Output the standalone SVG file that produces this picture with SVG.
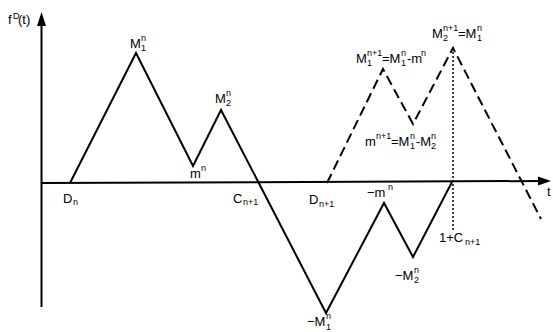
<svg xmlns="http://www.w3.org/2000/svg" width="553" height="332" viewBox="0 0 553 332">
<defs>
<style>
text{font-family:"Liberation Sans",Arial,sans-serif;font-size:13px;fill:#000}
.s{font-size:9px}
.ax{stroke:#000;stroke-width:2;fill:none}
.sol{stroke:#000;stroke-width:2;fill:none;stroke-linejoin:miter}
.dash{stroke:#000;stroke-width:2;fill:none;stroke-dasharray:10 5}
.dot{stroke:#000;stroke-width:1.5;fill:none;stroke-dasharray:2 2}
</style>
</defs>
<rect width="553" height="332" fill="#fff"/>
<g id="axes">
<line class="ax" x1="41.5" y1="307" x2="41.5" y2="22"/>
<polygon points="41.5,12 37,26 46,26" fill="#000"/>
<line class="ax" x1="41" y1="183" x2="540" y2="181"/>
<polygon points="551,181 538,176.5 538,185.5" fill="#000"/>
<text x="8" y="24">f</text><text class="s" x="13" y="19">D</text><text x="18" y="24">(t)</text>
<text x="547" y="196">t</text>
</g>
<g id="connectors">
<polyline id="solid-curve" class="sol" points="70,183 136,53 193,166 221,110 326,313 384,203 413,257 452,182"/>
<polyline id="dashed-curve" class="dash" points="327,183 383,69 413,124 453,48 541,219"/>
<line id="dotted" class="dot" x1="453" y1="52" x2="453" y2="230"/>
</g>
<g id="labels">
<g id="M1n"><text x="130" y="48">M</text><text class="s" x="141" y="51">1</text><text class="s" x="141" y="41">n</text></g>
<g id="mn"><text x="190" y="178">m</text><text class="s" x="201" y="171">n</text></g>
<g id="M2n"><text x="215" y="103">M</text><text class="s" x="226" y="106">2</text><text class="s" x="226" y="96">n</text></g>
<g id="Dn"><text x="63" y="203">D</text><text class="s" x="73" y="205">n</text></g>
<g id="Cn1"><text x="233" y="203">C</text><text class="s" x="243" y="205">n+1</text></g>
<g id="Dn1"><text x="309" y="204">D</text><text class="s" x="319" y="207">n+1</text></g>
<g id="negmn"><text x="367" y="197">−m</text><text class="s" x="388" y="190">n</text></g>
<g id="oneCn1"><text x="439" y="242">1+C</text><text class="s" x="465" y="245">n+1</text></g>
<g id="negM2n"><text x="395" y="280">−M</text><text class="s" x="414" y="283">2</text><text class="s" x="414" y="273">n</text></g>
<g id="negM1n"><text x="307" y="326">−M</text><text class="s" x="326" y="330">1</text><text class="s" x="326" y="319">n</text></g>
<g id="M1n1"><text x="356" y="63">M</text><text class="s" x="367" y="66">1</text><text class="s" x="367" y="56">n+1</text><text x="382" y="63">=M</text><text class="s" x="401" y="66">1</text><text class="s" x="401" y="56">n</text><text x="407" y="63">-m</text><text class="s" x="421" y="56">n</text></g>
<g id="M2n1"><text x="432" y="38">M</text><text class="s" x="443" y="41">2</text><text class="s" x="443" y="31">n+1</text><text x="458" y="38">=M</text><text class="s" x="477" y="41">1</text><text class="s" x="477" y="31">n</text></g>
<g id="mn1"><text x="365" y="146">m</text><text class="s" x="376" y="139">n+1</text><text x="391" y="146">=M</text><text class="s" x="410" y="149">1</text><text class="s" x="410" y="139">n</text><text x="416" y="146">-M</text><text class="s" x="431" y="149">2</text><text class="s" x="431" y="139">n</text></g>
</g>
</svg>
